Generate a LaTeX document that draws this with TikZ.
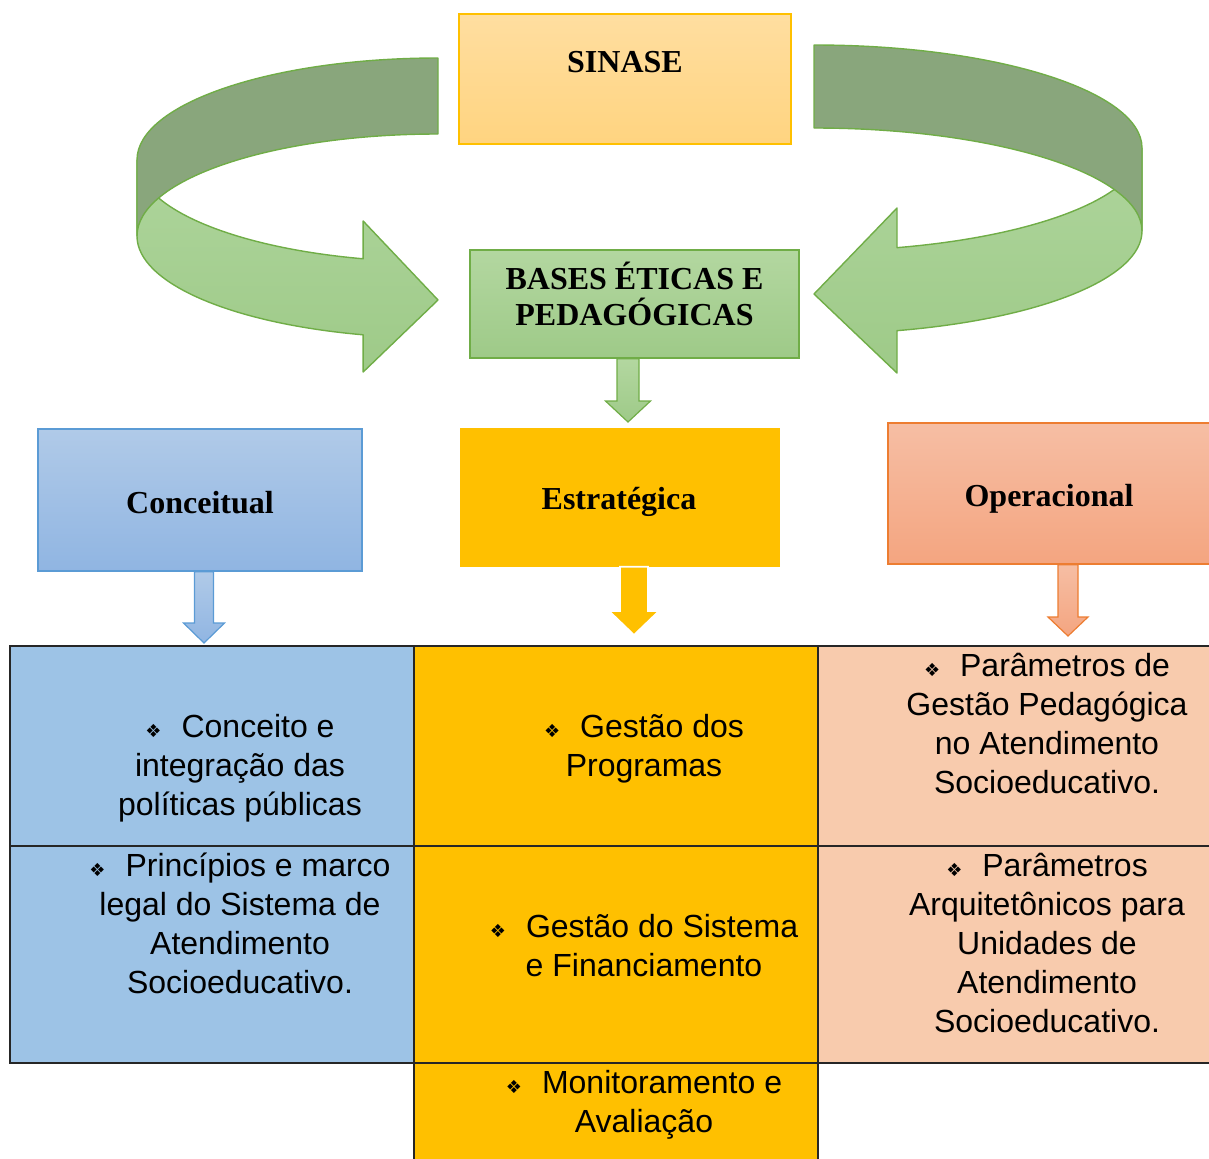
\documentclass[tikz,border=0pt]{standalone}
\usepackage{fontspec}
\setmainfont{Liberation Serif}
\newfontfamily\arialfont{Liberation Sans}
\newfontfamily\dingfont{DejaVu Sans}
\usetikzlibrary{calc}

\definecolor{ribbonline}{HTML}{70AD47}
\definecolor{ribbonback}{RGB}{137,166,124}
\definecolor{ribbontop}{RGB}{174,213,156}
\definecolor{ribbonbot}{RGB}{158,202,136}
\definecolor{sinasetop}{RGB}{255,222,160}
\definecolor{sinasebot}{RGB}{255,212,128}
\definecolor{gold}{HTML}{FFC000}
\definecolor{basestop}{RGB}{179,215,160}
\definecolor{basesbot}{RGB}{158,202,136}
\definecolor{bluetop}{RGB}{176,202,232}
\definecolor{bluebot}{RGB}{144,181,226}
\definecolor{blueline}{HTML}{5B9BD5}
\definecolor{orangetop}{RGB}{246,190,164}
\definecolor{orangebot}{RGB}{244,165,128}
\definecolor{orangeline}{HTML}{ED7D31}
\definecolor{cellblue}{HTML}{9DC3E6}
\definecolor{cellpeach}{HTML}{F8CBAD}

% bullet used in the table cells
\newcommand\bul{{\dingfont\fontsize{9}{9}\selectfont ❖}\hspace{10pt}}
% fixed height for the first line of a text block
\newcommand\firstline{\rule{0pt}{16pt}}

% downward block arrow: style, top reference, tip, shaft half width, head half width, head length
\newcommand\blockdown[6]{%
  \path[#1] let \p1=(#2), \p2=(#3) in
    (\x2-#4,\y1) -- (\x2+#4,\y1) -- (\x2+#4,\y2+#6) -- (\x2+#5,\y2+#6)
    -- (\x2,\y2) -- (\x2-#5,\y2+#6) -- (\x2-#4,\y2+#6) -- cycle;}

\begin{document}
\begin{tikzpicture}[x=0.5pt,y=-0.5pt,
  ribback/.style={draw=ribbonline,line width=0.7pt,fill=ribbonback,line join=round},
  ribfront/.style={draw=ribbonline,line width=0.7pt,top color=ribbontop,bottom color=ribbonbot,line join=round},
  box/.style={rectangle,inner sep=0pt,line width=0.8pt},
  cell/.style={rectangle,inner sep=0pt,draw=black!85,line width=0.75pt},
  title/.style={font=\bfseries\fontsize{16}{18}\selectfont,inner sep=0pt,anchor=base},
  celltext/.style={font=\arialfont\fontsize{16}{19.5}\selectfont,align=center,inner sep=0pt,anchor=north},
  greenarrow/.style={draw=ribbonline,line width=0.6pt,top color=basestop,bottom color=basesbot},
  goldarrow/.style={draw=white,line width=0.9pt,fill=gold},
  bluearrow/.style={draw=blueline,line width=0.6pt,top color=bluetop,bottom color=bluebot},
  orangearrow/.style={draw=orangeline,line width=0.6pt,top color=orangetop,bottom color=orangebot}]
\useasboundingbox (0,0) rectangle (1209,1158);

% left curved ribbon arrow: outer face with head, then the inner face over it
\draw[ribfront] (137,160) arc[start angle=180,end angle=104.4,x radius=301,y radius=102]
  -- (363.14,221) -- (438,300) -- (363.14,372) -- (363.14,334.8)
  arc[start angle=104.4,end angle=180,x radius=301,y radius=102] -- cycle;
\draw[ribback] (438,58) arc[start angle=-90,end angle=-180,x radius=301,y radius=102]
  -- (137,236) arc[start angle=180,end angle=270,x radius=301,y radius=102] -- cycle;

% right curved ribbon arrow
\draw[ribfront] (1142,148) arc[start angle=0,end angle=75.34,x radius=328,y radius=103]
  -- (897,208) -- (814,294) -- (897,373) -- (897,330.65)
  arc[start angle=75.34,end angle=0,x radius=328,y radius=103] -- cycle;
\draw[ribback] (814,45) arc[start angle=-90,end angle=0,x radius=328,y radius=103]
  -- (1142,231) arc[start angle=0,end angle=-90,x radius=328,y radius=103] -- cycle;

% top boxes
\node[box,draw=gold,top color=sinasetop,bottom color=sinasebot,minimum width=166pt,minimum height=65pt] (sinase) at (625,79) {};
\node[title] (sinasetxt) at (625,72) {SINASE};

\node[box,draw=ribbonline,top color=basestop,bottom color=basesbot,minimum width=164.5pt,minimum height=54pt] (bases) at (634.5,304) {};
\node[title,align=center,anchor=north] (basestxt) at (634.5,257) {\firstline BASES ÉTICAS E\\PEDAGÓGICAS};

% three dimension boxes
\node[box,draw=blueline,top color=bluetop,bottom color=bluebot,minimum width=162pt,minimum height=71pt] (conc) at (200,500) {};
\node[title] (conctxt) at (200,513) {Conceitual};

\node[box,draw=gold,fill=gold,minimum width=159pt,minimum height=68.5pt] (estr) at (620,497.5) {};
\node[title] (estrtxt) at (619,509) {Estratégica};

\node[box,draw=orangeline,top color=orangetop,bottom color=orangebot,minimum width=161pt,minimum height=70.5pt] (oper) at (1049,493.5) {};
\node[title] (opertxt) at (1049,506) {Operacional};

% table
\node[cell,fill=cellblue,minimum width=202pt,minimum height=100pt] (c11) at (212,746) {};
\node[cell,fill=cellblue,minimum width=202pt,minimum height=108.5pt] (c21) at (212,954.5) {};
\node[cell,fill=gold,minimum width=202pt,minimum height=100pt] (c12) at (616,746) {};
\node[cell,fill=gold,minimum width=202pt,minimum height=108.5pt] (c22) at (616,954.5) {};
\node[cell,fill=gold,minimum width=202pt,minimum height=56pt] (c32) at (616,1119) {};
\node[cell,fill=cellpeach,minimum width=197pt,minimum height=100pt] (c13) at (1015,746) {};
\node[cell,fill=cellpeach,minimum width=197pt,minimum height=108.5pt] (c23) at (1015,954.5) {};

\node[celltext] (t11) at (240,705) {\firstline\bul Conceito e\\integração das\\políticas públicas};
\node[celltext] (t21) at (240,844) {\firstline\bul Princípios e marco\\legal do Sistema de\\Atendimento\\Socioeducativo.};
\node[celltext] (t12) at (644,705) {\firstline\bul Gestão dos\\Programas};
\node[celltext] (t22) at (644,905) {\firstline\bul Gestão do Sistema\\e Financiamento};
\node[celltext] (t32) at (644,1061) {\firstline\bul Monitoramento e\\Avaliação};
\node[celltext] (t13) at (1047,644) {\firstline\bul Parâmetros de\\Gestão Pedagógica\\no Atendimento\\Socioeducativo.};
\node[celltext] (t23) at (1047,844) {\firstline\bul Parâmetros\\Arquitetônicos para\\Unidades de\\Atendimento\\Socioeducativo.};

% block arrows between levels
\coordinate (gtip) at (628,422);
\coordinate (btip) at (204,643);
\coordinate (ytip) at (634,635);
\coordinate (otip) at (1068,636);
\blockdown{greenarrow}{bases.south}{gtip}{5.5pt}{11.25pt}{10.5pt}
\blockdown{bluearrow}{conc.south}{btip}{4.75pt}{10.25pt}{10pt}
\blockdown{goldarrow}{estr.south}{ytip}{7pt}{12.5pt}{12pt}
\blockdown{orangearrow}{oper.south}{otip}{5pt}{10pt}{9.5pt}
\end{tikzpicture}
\end{document}
